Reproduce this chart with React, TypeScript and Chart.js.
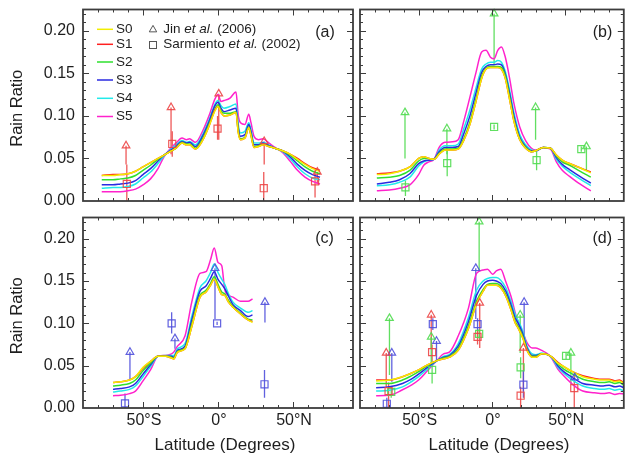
import React, { useEffect, useRef } from "react";
import { Chart, registerables } from "chart.js";

Chart.register(...registerables);

const FONT = '"Liberation Sans", Arial, Helvetica, sans-serif';
const TEXT = "#1e1e1e";
const FRAME = "#3c3c3c";

const seriesNames = ["S0", "S1", "S2", "S3", "S4", "S5"];
const seriesColors = ["#f2ee00", "#ff2020", "#2ee02e", "#2a2ae0", "#22eaea", "#ff22cc"];
const yTickLabels = ["0.00", "0.05", "0.10", "0.15", "0.20"];
const yTickValues = [0, 0.05, 0.1, 0.15, 0.2];
const xTickValues = [-50, 0, 50];
const xTickLabels = ["50°S", "0°", "50°N"];

// ---------- Panel (a) ----------
const latA = [-77.5, -70, -65, -60, -55, -50, -45, -40, -36, -32, -28, -24, -21, -19, -15, -10, -6, -2, 0, 2, 4, 8, 12, 13.5, 15, 18, 20.5, 22, 24, 27, 30, 34, 38, 43, 48, 53, 58, 63, 68];
const a0 = [0.030, 0.030, 0.031, 0.032, 0.035, 0.040, 0.045, 0.050, 0.054, 0.058, 0.062, 0.068, 0.066, 0.066, 0.061, 0.072, 0.088, 0.106, 0.111, 0.104, 0.100, 0.101, 0.104, 0.080, 0.072, 0.074, 0.086, 0.077, 0.063, 0.064, 0.066, 0.064, 0.062, 0.059, 0.055, 0.049, 0.043, 0.038, 0.035];
const a1 = [0.030, 0.031, 0.031, 0.032, 0.035, 0.040, 0.045, 0.050, 0.054, 0.058, 0.062, 0.068, 0.066, 0.066, 0.061, 0.072, 0.088, 0.107, 0.111, 0.104, 0.100, 0.101, 0.104, 0.081, 0.072, 0.074, 0.086, 0.077, 0.063, 0.064, 0.066, 0.064, 0.062, 0.059, 0.055, 0.050, 0.044, 0.039, 0.036];
const a2 = [0.025, 0.025, 0.026, 0.027, 0.030, 0.036, 0.042, 0.049, 0.054, 0.058, 0.062, 0.069, 0.067, 0.067, 0.062, 0.074, 0.090, 0.108, 0.113, 0.106, 0.103, 0.103, 0.105, 0.082, 0.073, 0.075, 0.087, 0.078, 0.064, 0.065, 0.067, 0.064, 0.062, 0.059, 0.054, 0.047, 0.040, 0.035, 0.032];
const a3 = [0.019, 0.019, 0.020, 0.021, 0.024, 0.031, 0.038, 0.047, 0.054, 0.059, 0.064, 0.070, 0.068, 0.069, 0.064, 0.077, 0.093, 0.112, 0.116, 0.109, 0.105, 0.107, 0.109, 0.086, 0.076, 0.078, 0.090, 0.081, 0.066, 0.066, 0.068, 0.065, 0.062, 0.059, 0.052, 0.043, 0.036, 0.031, 0.028];
const a4 = [0.015, 0.016, 0.016, 0.017, 0.020, 0.027, 0.034, 0.044, 0.053, 0.060, 0.066, 0.071, 0.069, 0.070, 0.066, 0.079, 0.095, 0.114, 0.118, 0.112, 0.109, 0.111, 0.114, 0.090, 0.080, 0.082, 0.092, 0.084, 0.068, 0.068, 0.069, 0.066, 0.062, 0.058, 0.050, 0.040, 0.032, 0.027, 0.025];
const a5 = [0.011, 0.011, 0.011, 0.012, 0.014, 0.019, 0.026, 0.038, 0.052, 0.061, 0.068, 0.074, 0.072, 0.073, 0.069, 0.083, 0.100, 0.120, 0.125, 0.117, 0.118, 0.121, 0.128, 0.100, 0.092, 0.090, 0.102, 0.092, 0.076, 0.072, 0.073, 0.068, 0.063, 0.057, 0.047, 0.036, 0.028, 0.023, 0.020];
// triangles: [lat, value, lower end of bar]; squares: [lat, value, low, high]
const triA = [[-61.3, 0.065, 0.043], [-31.3, 0.110, 0.055], [0.5, 0.126, 0.072], [30.8, 0.070, 0.043], [66.2, 0.034, 0.020]];
const sqA = [[-60.8, 0.020, -0.01, 0.043], [-30.5, 0.067, 0.052, 0.082], [-0.3, 0.085, 0.072, 0.100], [30.5, 0.015, -0.01, 0.034], [64.7, 0.023, 0.004, 0.036]];

// ---------- Panel (b) ----------
const latB = [-78.5, -70, -63, -56, -50, -46.5, -43, -39.5, -36, -32, -27, -23, -19, -15, -11, -7, -4, -1, 1.5, 4, 6.5, 9, 12, 15, 19, 23, 27, 30, 35, 40, 44, 48, 53, 60, 67.5];
const b0 = [0.031, 0.032, 0.035, 0.040, 0.050, 0.052, 0.050, 0.049, 0.055, 0.060, 0.060, 0.061, 0.072, 0.090, 0.116, 0.144, 0.155, 0.157, 0.157, 0.157, 0.155, 0.145, 0.120, 0.094, 0.072, 0.062, 0.058, 0.059, 0.063, 0.062, 0.054, 0.048, 0.044, 0.039, 0.033];
const b1 = [0.032, 0.033, 0.035, 0.040, 0.050, 0.052, 0.050, 0.049, 0.055, 0.060, 0.060, 0.061, 0.072, 0.090, 0.116, 0.144, 0.155, 0.157, 0.157, 0.157, 0.155, 0.145, 0.120, 0.094, 0.072, 0.062, 0.058, 0.059, 0.063, 0.062, 0.054, 0.048, 0.044, 0.039, 0.034];
const b2 = [0.027, 0.028, 0.030, 0.036, 0.047, 0.050, 0.050, 0.049, 0.056, 0.061, 0.061, 0.062, 0.074, 0.093, 0.119, 0.147, 0.156, 0.158, 0.158, 0.158, 0.157, 0.148, 0.123, 0.096, 0.073, 0.063, 0.058, 0.059, 0.063, 0.062, 0.053, 0.046, 0.042, 0.035, 0.028];
const b3 = [0.020, 0.022, 0.025, 0.032, 0.044, 0.047, 0.048, 0.049, 0.058, 0.063, 0.063, 0.064, 0.080, 0.100, 0.126, 0.151, 0.158, 0.160, 0.160, 0.161, 0.160, 0.150, 0.127, 0.100, 0.075, 0.064, 0.059, 0.059, 0.063, 0.062, 0.051, 0.043, 0.037, 0.029, 0.021];
const b4 = [0.018, 0.019, 0.022, 0.028, 0.041, 0.046, 0.048, 0.049, 0.060, 0.065, 0.065, 0.067, 0.086, 0.107, 0.132, 0.155, 0.161, 0.163, 0.163, 0.165, 0.163, 0.153, 0.131, 0.104, 0.078, 0.066, 0.060, 0.059, 0.063, 0.062, 0.049, 0.041, 0.034, 0.026, 0.018];
const b5 = [0.012, 0.013, 0.015, 0.019, 0.031, 0.042, 0.046, 0.049, 0.063, 0.069, 0.0695, 0.072, 0.095, 0.122, 0.150, 0.175, 0.177, 0.169, 0.167, 0.177, 0.181, 0.170, 0.145, 0.115, 0.087, 0.071, 0.062, 0.060, 0.063, 0.061, 0.046, 0.036, 0.029, 0.020, 0.012];
const triB = [[-59.3, 0.104, 0.050], [-30.7, 0.085, 0.055], [1.5, 0.220, 0.160], [29.8, 0.110, 0.072], [64.5, 0.064, 0.035]];
const sqB = [[-59, 0.016, 0.006, 0.024], [-30.5, 0.0445, 0.029, 0.060], [1.5, 0.087, 0.084, 0.090], [30.5, 0.048, 0.036, 0.058], [61, 0.061, 0.058, 0.064]];

// ---------- Panel (c) ----------
const latC = [-70, -65, -59, -55, -50, -45, -40, -35, -31, -29.5, -27, -22, -17.5, -12, -8, -5, -2.5, 0, 2.5, 4.5, 7, 10, 15, 20, 23];
const c0 = [0.030, 0.031, 0.033, 0.037, 0.048, 0.055, 0.061, 0.061, 0.059, 0.058, 0.066, 0.070, 0.096, 0.131, 0.137, 0.145, 0.152, 0.143, 0.134, 0.133, 0.125, 0.119, 0.111, 0.104, 0.101];
const c1 = [0.030, 0.031, 0.033, 0.037, 0.047, 0.055, 0.061, 0.061, 0.059, 0.058, 0.066, 0.070, 0.096, 0.131, 0.137, 0.145, 0.152, 0.143, 0.134, 0.133, 0.125, 0.119, 0.111, 0.104, 0.102];
const c2 = [0.026, 0.027, 0.029, 0.033, 0.044, 0.053, 0.061, 0.061, 0.060, 0.059, 0.067, 0.071, 0.099, 0.133, 0.139, 0.147, 0.155, 0.146, 0.137, 0.135, 0.127, 0.120, 0.112, 0.105, 0.104];
const c3 = [0.022, 0.023, 0.025, 0.029, 0.040, 0.051, 0.061, 0.061, 0.061, 0.060, 0.068, 0.073, 0.104, 0.138, 0.144, 0.153, 0.161, 0.152, 0.146, 0.141, 0.132, 0.122, 0.115, 0.108, 0.110];
const c4 = [0.019, 0.020, 0.022, 0.026, 0.037, 0.049, 0.061, 0.062, 0.062, 0.062, 0.070, 0.076, 0.108, 0.142, 0.150, 0.160, 0.170, 0.160, 0.152, 0.146, 0.135, 0.125, 0.118, 0.113, 0.115];
const c5 = [0.0145, 0.015, 0.017, 0.020, 0.032, 0.045, 0.061, 0.062, 0.064, 0.066, 0.073, 0.085, 0.125, 0.159, 0.161, 0.175, 0.189, 0.172, 0.168, 0.140, 0.133, 0.131, 0.126, 0.126, 0.129];
const triC = [[-58.7, 0.066, 0.034], [-28.7, 0.082, 0.070], [-2, 0.165, 0.105], [31.3, 0.125, 0.101]];
const sqC = [[-62, 0.0055, -0.01, 0.017], [-30.9, 0.100, 0.088, 0.113], [-0.6, 0.100, 0.098, 0.102], [31, 0.028, 0.012, 0.045]];

// ---------- Panel (d) ----------
const latD = [-79, -70, -61, -55, -50, -44, -37.5, -33, -29, -23, -16, -10.5, -6, -3, 0.5, 3, 6, 9.5, 13, 16, 18, 21, 24, 27.5, 30, 34, 38, 41, 45, 49, 55, 62, 70, 76, 80, 84, 87, 90];
const d0 = [0.032, 0.033, 0.037, 0.041, 0.045, 0.051, 0.056, 0.058, 0.060, 0.068, 0.094, 0.123, 0.138, 0.145, 0.145, 0.145, 0.142, 0.132, 0.116, 0.100, 0.094, 0.083, 0.068, 0.060, 0.060, 0.064, 0.063, 0.060, 0.053, 0.049, 0.043, 0.037, 0.034, 0.033, 0.033, 0.031, 0.032, 0.029];
const d1 = [0.033, 0.033, 0.037, 0.041, 0.045, 0.051, 0.056, 0.058, 0.060, 0.068, 0.094, 0.123, 0.138, 0.145, 0.145, 0.145, 0.142, 0.132, 0.116, 0.100, 0.094, 0.083, 0.068, 0.060, 0.060, 0.064, 0.063, 0.060, 0.054, 0.049, 0.043, 0.038, 0.035, 0.034, 0.034, 0.032, 0.033, 0.030];
const d2 = [0.029, 0.029, 0.033, 0.038, 0.043, 0.050, 0.056, 0.059, 0.061, 0.070, 0.097, 0.126, 0.140, 0.146, 0.147, 0.147, 0.144, 0.134, 0.118, 0.102, 0.096, 0.085, 0.069, 0.061, 0.061, 0.064, 0.063, 0.060, 0.052, 0.046, 0.040, 0.034, 0.031, 0.030, 0.031, 0.029, 0.030, 0.027];
const d3 = [0.024, 0.025, 0.029, 0.034, 0.040, 0.048, 0.056, 0.060, 0.062, 0.073, 0.102, 0.133, 0.146, 0.150, 0.151, 0.150, 0.147, 0.138, 0.122, 0.106, 0.100, 0.088, 0.071, 0.062, 0.062, 0.064, 0.063, 0.060, 0.050, 0.043, 0.036, 0.029, 0.027, 0.026, 0.027, 0.025, 0.026, 0.024];
const d4 = [0.020, 0.021, 0.025, 0.031, 0.037, 0.046, 0.056, 0.061, 0.063, 0.076, 0.107, 0.139, 0.150, 0.153, 0.154, 0.154, 0.151, 0.142, 0.126, 0.110, 0.103, 0.091, 0.073, 0.064, 0.063, 0.065, 0.063, 0.059, 0.048, 0.041, 0.033, 0.026, 0.023, 0.022, 0.023, 0.021, 0.022, 0.020];
const d5 = [0.0145, 0.015, 0.0215, 0.027, 0.033, 0.044, 0.056, 0.064, 0.066, 0.085, 0.118, 0.159, 0.163, 0.164, 0.158, 0.162, 0.164, 0.149, 0.132, 0.112, 0.100, 0.090, 0.077, 0.071, 0.071, 0.068, 0.064, 0.058, 0.046, 0.038, 0.028, 0.020, 0.018, 0.017, 0.018, 0.016, 0.017, 0.0165];
const triDred = [[-72.1, 0.065, 0.025], [-41.4, 0.110, 0.070], [-8.3, 0.124, 0.071], [21.5, 0.071, 0.020]];
const sqDred = [[-70.5, 0.020, -0.01, 0.030], [-40.8, 0.066, 0.055, 0.075], [-9.8, 0.084, 0.075, 0.092], [19.6, 0.0145, -0.01, 0.025], [56.2, 0.0235, -0.01, 0.041]];
const triDgreen = [[-69.9, 0.106, 0.039], [-41.4, 0.084, 0.050], [-8.7, 0.220, 0.161], [19.3, 0.110, 0.065], [53.9, 0.065, 0.028]];
const sqDgreen = [[-68.7, 0.019, 0.012, 0.026], [-40.8, 0.045, 0.029, 0.055], [-8.7, 0.0875, 0.082, 0.093], [19.6, 0.048, 0.035, 0.060], [50.6, 0.0615, 0.058, 0.065]];
const triDblue = [[-68.3, 0.065, 0.031], [-37.8, 0.079, 0.055], [-11, 0.165, 0.105], [22, 0.125, 0.085], [56.5, 0.036, 0.030]];
const sqDblue = [[-71.7, 0.005, -0.01, 0.012], [-40.3, 0.099, 0.092, 0.106], [-9.8, 0.099, 0.092, 0.106], [21.5, 0.0275, 0.012, 0.045]];

const RED = "rgba(236,70,70,0.9)";
const GREEN = "rgba(80,220,80,0.9)";
const BLUE = "rgba(80,80,220,0.9)";

type Group = { color: string; tri: number[][]; sq: number[][] };
type Panel = {
  label: string;
  labelPos: [number, number];
  area: [number, number, number, number];
  lat: number[];
  series: number[][];
  groups: Group[];
  yLabels: boolean;
  xLabels: boolean;
  legend: boolean;
};

const panels: Panel[] = [
  { label: "(a)", labelPos: [325, 32.5], area: [83, 9.5, 353, 201], lat: latA, series: [a0, a1, a2, a3, a4, a5], groups: [{ color: RED, tri: triA, sq: sqA }], yLabels: true, xLabels: false, legend: true },
  { label: "(b)", labelPos: [602.5, 32.5], area: [360, 9.5, 629, 201], lat: latB, series: [b0, b1, b2, b3, b4, b5], groups: [{ color: GREEN, tri: triB, sq: sqB }], yLabels: false, xLabels: false, legend: false },
  { label: "(c)", labelPos: [324.5, 238.3], area: [83, 217.5, 353, 408], lat: latC, series: [c0, c1, c2, c3, c4, c5], groups: [{ color: BLUE, tri: triC, sq: sqC }], yLabels: true, xLabels: true, legend: false },
  { label: "(d)", labelPos: [602.2, 238.3], area: [360, 217.5, 629, 408], lat: latD, series: [d0, d1, d2, d3, d4, d5], groups: [{ color: RED, tri: triDred, sq: sqDred }, { color: GREEN, tri: triDgreen, sq: sqDgreen }, { color: BLUE, tri: triDblue, sq: sqDblue }], yLabels: false, xLabels: true, legend: false },
];

const W = 630;
const H = 458;

function makeDecor(p: Panel) {
  return {
    id: "decor" + p.label.replace(/[()]/g, ""),
    beforeDatasetsDraw(chart: any) {
      const { ctx, chartArea: ca, scales } = chart;
      const xs = scales.x;
      const ys = scales.y;
      ctx.save();
      ctx.beginPath();
      ctx.rect(ca.left, ca.top, ca.right - ca.left, ca.bottom - ca.top);
      ctx.clip();
      ctx.lineWidth = 1.3;
      for (const g of p.groups) {
        ctx.strokeStyle = g.color;
        for (const t of g.tri) {
          const px = xs.getPixelForValue(t[0]);
          ctx.beginPath();
          ctx.moveTo(px, ys.getPixelForValue(t[2]));
          ctx.lineTo(px, ys.getPixelForValue(t[1]));
          ctx.stroke();
        }
        for (const s of g.sq) {
          const px = xs.getPixelForValue(s[0]);
          ctx.beginPath();
          ctx.moveTo(px, ys.getPixelForValue(s[2]));
          ctx.lineTo(px, ys.getPixelForValue(s[3]));
          ctx.stroke();
        }
      }
      ctx.restore();
    },
    afterDraw(chart: any) {
      const { ctx, chartArea: ca, scales } = chart;
      const xs = scales.x;
      const ys = scales.y;
      ctx.save();
      ctx.strokeStyle = FRAME;
      ctx.lineWidth = 1;
      // x ticks (every 10°, major every 50°)
      for (let lat = -80; lat <= 80; lat += 10) {
        const px = Math.round(xs.getPixelForValue(lat)) + 0.5;
        const len = lat % 50 === 0 ? 6 : 3;
        ctx.beginPath();
        ctx.moveTo(px, ca.bottom);
        ctx.lineTo(px, ca.bottom - len);
        ctx.moveTo(px, ca.top);
        ctx.lineTo(px, ca.top + len);
        ctx.stroke();
      }
      // y ticks (every 0.01, major every 0.05)
      for (let k = 1; k <= 22; k++) {
        const py = Math.round(ys.getPixelForValue(k / 100)) + 0.5;
        const len = k % 5 === 0 ? 6 : 3;
        ctx.beginPath();
        ctx.moveTo(ca.left, py);
        ctx.lineTo(ca.left + len, py);
        ctx.moveTo(ca.right, py);
        ctx.lineTo(ca.right - len, py);
        ctx.stroke();
      }
      // frame
      ctx.lineWidth = 1.8;
      ctx.strokeRect(ca.left, ca.top, ca.right - ca.left, ca.bottom - ca.top);

      ctx.fillStyle = TEXT;
      // panel label
      ctx.font = `16px ${FONT}`;
      ctx.textAlign = "center";
      ctx.textBaseline = "middle";
      ctx.fillText(p.label, p.labelPos[0], p.labelPos[1]);

      if (p.yLabels) {
        ctx.font = `16px ${FONT}`;
        ctx.textAlign = "right";
        ctx.textBaseline = "middle";
        yTickValues.forEach((v, i) => {
          ctx.fillText(yTickLabels[i], ca.left - 8, ys.getPixelForValue(v));
        });
        ctx.save();
        ctx.translate(17.5, (ca.top + ca.bottom) / 2 + 3);
        ctx.rotate(-Math.PI / 2);
        ctx.textAlign = "center";
        ctx.textBaseline = "middle";
        ctx.font = `16.5px ${FONT}`;
        ctx.fillText("Rain Ratio", 0, 0);
        ctx.restore();
      }
      if (p.xLabels) {
        ctx.font = `16px ${FONT}`;
        ctx.textAlign = "center";
        ctx.textBaseline = "alphabetic";
        xTickValues.forEach((v, i) => {
          ctx.fillText(xTickLabels[i], xs.getPixelForValue(v) + 1, ca.bottom + 17);
        });
        ctx.font = `17px ${FONT}`;
        ctx.fillText("Latitude (Degrees)", (ca.left + ca.right) / 2 + 7, 449.5);
      }
      if (p.legend) {
        const rows = [29.3, 44.3, 62, 80, 98.3, 116.5];
        ctx.font = `13.5px ${FONT}`;
        ctx.textAlign = "left";
        ctx.textBaseline = "middle";
        seriesNames.forEach((name, i) => {
          ctx.strokeStyle = seriesColors[i];
          ctx.lineWidth = 1.5;
          ctx.beginPath();
          ctx.moveTo(97, rows[i]);
          ctx.lineTo(113, rows[i]);
          ctx.stroke();
          ctx.fillStyle = TEXT;
          ctx.fillText(name, 116, rows[i]);
        });
        // observation symbols
        ctx.strokeStyle = "#555";
        ctx.lineWidth = 1;
        const tx = 153, ty = 29.7, r = 4.3;
        ctx.beginPath();
        ctx.moveTo(tx, ty - r);
        ctx.lineTo(tx + r * 0.866, ty + r * 0.5);
        ctx.lineTo(tx - r * 0.866, ty + r * 0.5);
        ctx.closePath();
        ctx.stroke();
        ctx.strokeRect(149.5, 41.5, 7, 7);
        const drawParts = (parts: [string, boolean][], x0: number, y0: number) => {
          let x = x0;
          for (const [s, it] of parts) {
            ctx.font = `${it ? "italic " : ""}13.5px ${FONT}`;
            ctx.fillText(s, x, y0);
            x += ctx.measureText(s).width;
          }
        };
        ctx.fillStyle = TEXT;
        drawParts([["Jin ", false], ["et al.", true], [" (2006)", false]], 163.3, 29.3);
        drawParts([["Sarmiento ", false], ["et al.", true], [" (2002)", false]], 163.3, 44.5);
      }
      ctx.restore();
    },
  };
}

function buildDatasets(p: Panel) {
  const ds: any[] = [];
  for (const g of p.groups) {
    ds.push({
      data: g.tri.map((t) => ({ x: t[0], y: t[1] })),
      showLine: false,
      pointStyle: "triangle",
      pointRadius: 4.4,
      pointBorderColor: g.color,
      pointBackgroundColor: "rgba(0,0,0,0)",
      pointBorderWidth: 1.2,
      borderColor: g.color,
      clip: false,
    });
    ds.push({
      data: g.sq.map((s) => ({ x: s[0], y: s[1] })),
      showLine: false,
      pointStyle: "rect",
      pointRadius: 5,
      pointBorderColor: g.color,
      pointBackgroundColor: "rgba(0,0,0,0)",
      pointBorderWidth: 1.2,
      borderColor: g.color,
      clip: false,
    });
  }
  p.series.forEach((s, j) => {
    ds.push({
      label: seriesNames[j],
      data: p.lat.map((x, i) => ({ x, y: s[i] })),
      borderColor: seriesColors[j],
      borderWidth: 1.5,
      pointRadius: 0,
      cubicInterpolationMode: "monotone",
      fill: false,
    });
  });
  return ds;
}

function PanelCanvas({ p }: { p: Panel }) {
  const ref = useRef<HTMLCanvasElement | null>(null);
  useEffect(() => {
    if (!ref.current) return;
    const [l, t, r, b] = p.area;
    const chart = new Chart(ref.current, {
      type: "line",
      data: { datasets: buildDatasets(p) },
      options: {
        animation: false,
        responsive: false,
        maintainAspectRatio: false,
        events: [],
        layout: { padding: { left: l, top: t, right: W - r, bottom: H - b } },
        scales: {
          x: { type: "linear", min: -90, max: 90, display: false },
          y: { type: "linear", min: 0, max: 0.225, display: false },
        },
        plugins: { legend: { display: false }, tooltip: { enabled: false } },
      },
      plugins: [makeDecor(p)],
    } as any);
    return () => chart.destroy();
  }, [p]);
  return (
    <canvas
      ref={ref}
      width={W}
      height={H}
      style={{ position: "absolute", left: 0, top: 0, width: W, height: H }}
    />
  );
}

export default function App() {
  return (
    <div style={{ position: "fixed", left: 0, top: 0, width: W, height: H, background: "#fff" }}>
      {panels.map((p) => (
        <PanelCanvas key={p.label} p={p} />
      ))}
    </div>
  );
}
